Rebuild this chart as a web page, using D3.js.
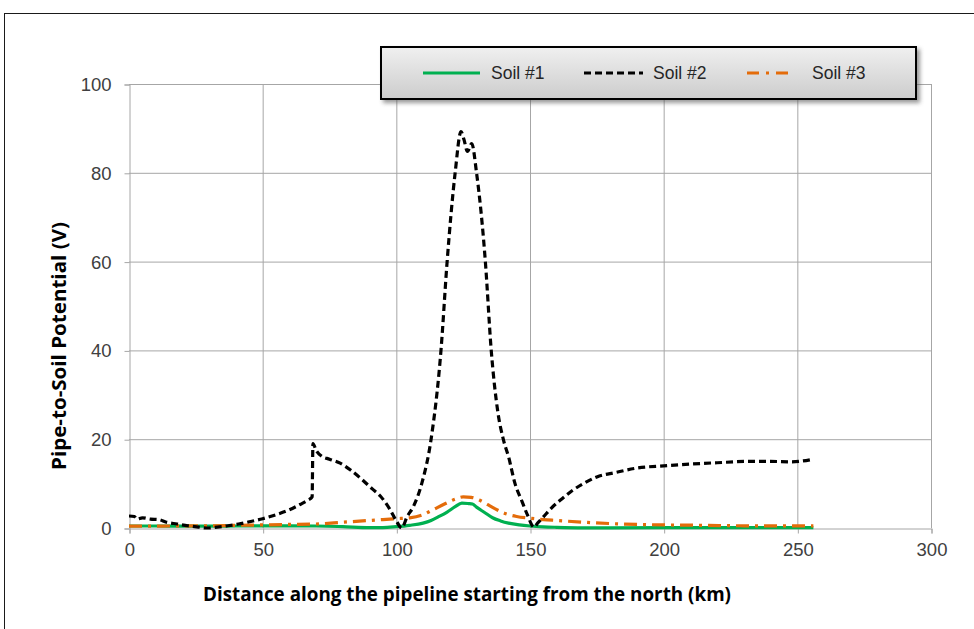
<!DOCTYPE html>
<html><head><meta charset="utf-8">
<script src="https://cdn.jsdelivr.net/npm/d3@7"></script>
<style>body{margin:0;background:#fff}svg{display:block}</style>
</head><body>
<svg id="chart" width="974" height="629"></svg>
<script>
// ---- data ----
const xTicks = [0, 50, 100, 150, 200, 250, 300];
const yTicks = [0, 20, 40, 60, 80, 100];
const seriesNames = ["Soil #1", "Soil #2", "Soil #3"];

const soil1Km = [0,10,20,30,40,50,60,70,80,90,95,100,105,110,113,116,119,122,124.5,127,128.5,130,133,136,139,142,146,150,155,160,170,180,200,220,240,256];
const soil1V  = [0.45,0.45,0.4,0.4,0.45,0.5,0.5,0.45,0.3,0.1,0.1,0.3,0.6,1.1,1.7,2.6,3.6,4.8,5.6,5.5,5.4,4.7,3.5,2.3,1.6,1.1,0.7,0.45,0.25,0.15,0.05,0.05,0.1,0.1,0.1,0.1];

const soil2Km = [0,2,3,5,8,11,14,18,22,26,29,33,37,41,45,50,55,60,64,67,68.5,68.8,70,72,75,79,83,87,91,94,97.6,100,102,104,106.5,109.5,113,116.7,119,122,124.2,125.3,126.6,128.2,130,133.3,135.5,138,140,142,144.4,147,149,151.5,153,155,158,162,166,170,175,182,190,200,210,220,232,240,248,252,256];
const soil2V  = [2.7,2.6,2.0,2.3,2.0,1.9,1.3,0.9,0.5,0.2,0,0.2,0.5,0.9,1.4,2.1,3.0,4.1,5.3,6.3,7.0,19,17.5,16.2,15.5,14.6,13,11,8.8,7.2,4.2,1.6,0,2.5,5,10,20,40,60,80,89.3,87.5,84.8,86.6,80,60,40,26,20,16,10,6,3,0.2,1.2,2.5,4.5,6.6,8.5,10,11.5,12.5,13.5,14,14.4,14.7,15,15,14.9,15.1,15.5];

const soil3Km = [0,10,20,30,40,50,60,70,80,90,95,100,105,110,114,118,122,125,128,131,134,137,141,145,150,155,160,170,180,190,200,215,230,245,256];
const soil3V  = [0.4,0.4,0.5,0.5,0.6,0.7,0.8,0.9,1.3,1.7,1.9,2.1,2.3,3.0,4.2,5.4,6.5,7.0,6.9,6.3,5.3,4.3,3.2,2.6,2.2,1.9,1.7,1.3,1.0,0.8,0.7,0.6,0.5,0.5,0.5];

// ---- layout ----
const svg = d3.select("#chart");
const pL = 129, pR = 931, pT = 84, pB = 528;
const x = d3.scaleLinear().domain([0, 300]).range([pL, pR]);
const y = d3.scaleLinear().domain([0, 100]).range([pB, pT]);

const defs = svg.append("defs");
const grad = defs.append("linearGradient").attr("id","lg").attr("x1",0).attr("y1",0).attr("x2",0).attr("y2",1);
grad.append("stop").attr("offset","0%").attr("stop-color","#f0f0f0");
grad.append("stop").attr("offset","100%").attr("stop-color","#cccccc");
const blur = defs.append("filter").attr("id","sh").attr("x","-10%").attr("y","-30%").attr("width","130%").attr("height","180%");
blur.append("feGaussianBlur").attr("stdDeviation",2);

// outer frame
svg.append("rect").attr("x",4.5).attr("y",13.5).attr("width",1100).attr("height",800)
  .attr("fill","#fff").attr("stroke","#1a1a1a").attr("stroke-width",1);

// gridlines
const grid = svg.append("g");
grid.selectAll(".gx").data(xTicks.slice(1)).join("line")
  .attr("x1", d => x(d)+0.5).attr("x2", d => x(d)+0.5).attr("y1", pT).attr("y2", pB)
  .attr("stroke","#a6a6a6").attr("stroke-width",1);
grid.selectAll(".gy").data(yTicks.slice(1)).join("line")
  .attr("y1", d => y(d)+0.5).attr("y2", d => y(d)+0.5).attr("x1", pL).attr("x2", pR)
  .attr("stroke","#a6a6a6").attr("stroke-width",1);

// axes
const xAxis = svg.append("g").attr("transform",`translate(0.5,${pB+0.5})`)
  .call(d3.axisBottom(x).tickValues(xTicks).tickSize(5).tickPadding(9));
const yAxis = svg.append("g").attr("transform",`translate(${pL+0.5},0.5)`)
  .call(d3.axisLeft(y).tickValues(yTicks).tickSize(5).tickPadding(13));
[xAxis, yAxis].forEach(a => {
  a.select(".domain").attr("stroke","#a6a6a6");
  a.selectAll(".tick line").attr("stroke","#a6a6a6");
  a.selectAll("text").attr("font-family","Liberation Sans, Arial, sans-serif").attr("font-size",18.5).attr("fill","#404040");
});

// lines
const line = d3.line().curve(d3.curveMonotoneX).x(d => x(d[0])).y(d => y(d[1]));
const zip = (a,b) => a.map((v,i) => [v, b[i]]);
const series = [
  {name: seriesNames[0], pts: zip(soil1Km, soil1V), color:"#00b050", dash:null},
  {name: seriesNames[1], pts: zip(soil2Km, soil2V), color:"#000000", dash:"7,4"},
  {name: seriesNames[2], pts: zip(soil3Km, soil3V), color:"#e46c0a", dash:"13,6,3,6"}
];
const drawOrder = [0, 2, 1];
drawOrder.forEach(i => {
  const s = series[i];
  svg.append("path").attr("d", line(s.pts)).attr("fill","none")
    .attr("stroke", s.color).attr("stroke-width",3.2)
    .attr("stroke-dasharray", s.dash).attr("stroke-linejoin","round");
});

// axis titles
svg.append("text").attr("x",467).attr("y",601).attr("text-anchor","middle")
  .attr("font-family","Open Sans, Liberation Sans, sans-serif").attr("font-weight","bold").attr("font-size",19)
  .attr("textLength",528).attr("lengthAdjust","spacingAndGlyphs").attr("fill","#000")
  .text("Distance along the pipeline starting from the north (km)");
svg.append("text").attr("transform","translate(66,346) rotate(-90)").attr("text-anchor","middle")
  .attr("font-family","Open Sans, Liberation Sans, sans-serif").attr("font-weight","bold").attr("font-size",19)
  .attr("textLength",248).attr("lengthAdjust","spacingAndGlyphs").attr("fill","#000")
  .text("Pipe-to-Soil Potential (V)");

// legend
const lg = svg.append("g");
lg.append("rect").attr("x",383).attr("y",49).attr("width",537).attr("height",54).attr("fill","#555").attr("opacity",0.6).attr("filter","url(#sh)");
lg.append("rect").attr("x",381).attr("y",47).attr("width",535).attr("height",52)
  .attr("fill","url(#lg)").attr("stroke","#000").attr("stroke-width",2);
const legX = [[423,480,491],[584,643,653],[747,792,812]];
series.forEach((s,i) => {
  const [x1,x2,tx] = legX[i];
  lg.append("line").attr("x1",x1).attr("x2",x2).attr("y1",73).attr("y2",73)
    .attr("stroke",s.color).attr("stroke-width",3).attr("stroke-dasharray", i===2 ? "12,7,3,7" : s.dash);
  lg.append("text").attr("x",tx).attr("y",79).attr("font-family","Liberation Sans, Arial, sans-serif")
    .attr("font-size",17.5).attr("fill","#262626").text(s.name);
});
</script>
</body></html>
